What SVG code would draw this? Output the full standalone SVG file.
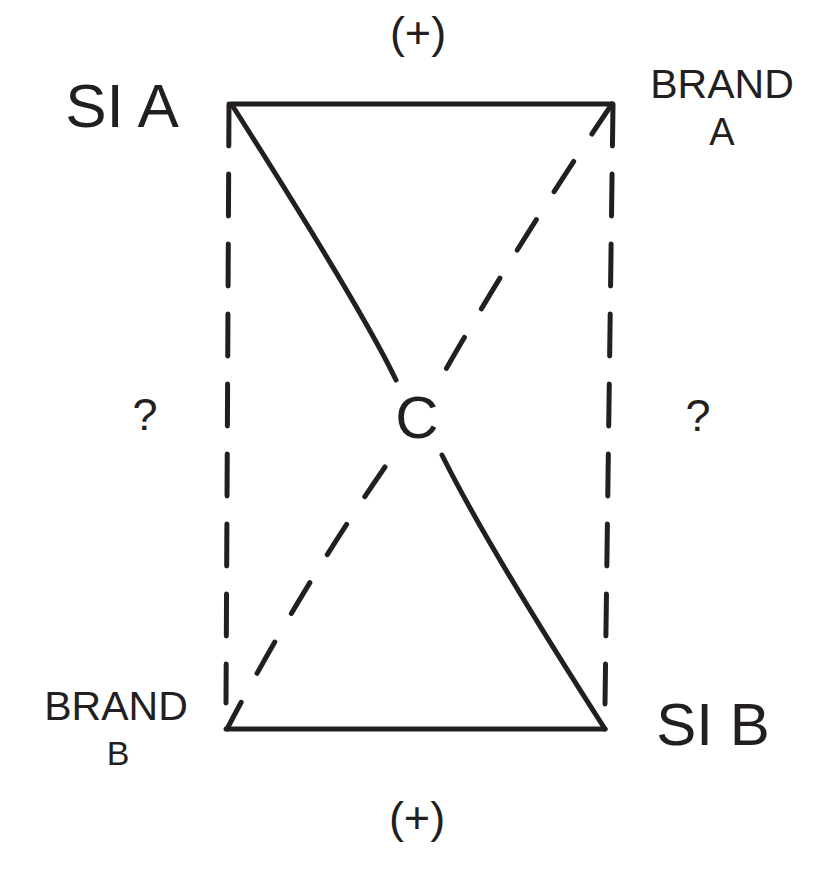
<svg xmlns="http://www.w3.org/2000/svg" width="816" height="873" viewBox="0 0 816 873">
<style>
.ln{fill:none;stroke:#231f20;stroke-width:5;stroke-linecap:round;stroke-linejoin:round}
.dv{stroke-dasharray:42 28}
.dd{stroke-dasharray:36 33}
text{font-family:"Liberation Sans",Arial,sans-serif;fill:#231f20;text-anchor:middle}
</style>
<rect width="816" height="873" fill="#ffffff"/>
<g id="connectors">
<path class="ln" d="M231,104 L612,104"/>
<path class="ln" d="M226,729 L605,729"/>
<path class="ln dv" d="M229,104 L226,703"/>
<path class="ln dv" d="M613,104 L605,704"/>
<path class="ln" d="M232,105 Q362,309 396,380"/>
<path class="ln" d="M442,455 Q486,544 605,729"/>
<path class="ln dd" d="M612,104 Q520,240 442,376"/>
<path class="ln dd" d="M385,467 Q300,590 227,729"/>
</g>
<g id="top-plus"><text x="418" y="48" font-size="45">(+)</text></g>
<g id="bottom-plus"><text x="417" y="833" font-size="45">(+)</text></g>
<g id="si-a"><text x="122" y="127" font-size="62">SI A</text></g>
<g id="si-b"><text x="713" y="745" font-size="60">SI B</text></g>
<g id="brand-a"><text x="722" y="98" font-size="41">BRAND</text><text x="722" y="145" font-size="38">A</text></g>
<g id="brand-b"><text x="116" y="720" font-size="41">BRAND</text><text x="118" y="765" font-size="34">B</text></g>
<g id="c"><text x="417" y="438" font-size="60">C</text></g>
<g id="q-left"><text x="145" y="430" font-size="45">?</text></g>
<g id="q-right"><text x="698" y="431" font-size="45">?</text></g>
</svg>
